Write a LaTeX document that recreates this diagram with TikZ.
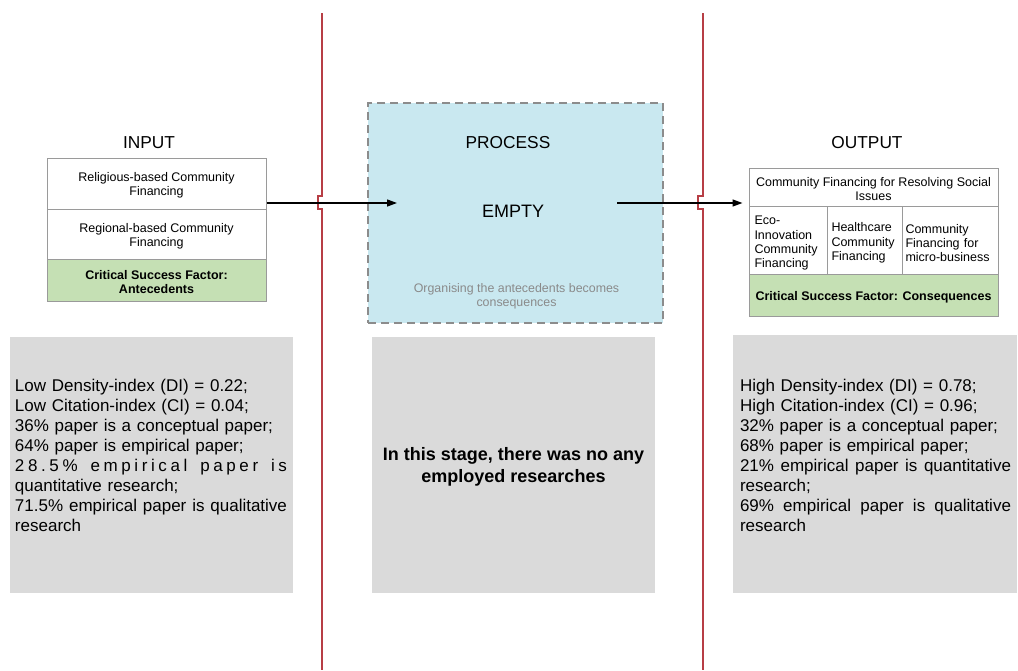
\documentclass[tikz,border=0pt]{standalone}
\usepackage{fontspec}
\setmainfont{Liberation Sans}
\usetikzlibrary{arrows.meta}
\definecolor{procblue}{HTML}{C9E8F0}
\definecolor{csfgreen}{HTML}{C5E0B4}
\definecolor{boxgray}{HTML}{DADADA}
\definecolor{cellgray}{HTML}{9A9A9A}
\definecolor{dashgray}{HTML}{8C8C8C}
\definecolor{redln}{HTML}{B73E45}
\definecolor{notegray}{HTML}{8A8A8A}
\newlength\gwl \setlength\gwl{272pt}
\newlength\gwr \setlength\gwr{271pt}
\newcommand\cstrut{\rule{0pt}{13pt}}
\newcommand\ccstrut{\rule{0pt}{15pt}}
\begin{document}
\begin{tikzpicture}[x=1pt,y=-1pt,
  cell/.style={draw=cellgray, line width=1pt, fill=white, inner sep=0pt, align=center,
    font=\fontsize{12.5}{14.3}\selectfont},
  csf/.style={cell, fill=csfgreen, font=\fontsize{12.5}{14.3}\selectfont\bfseries},
  colcell/.style={cell, align=left, minimum height=68pt},
  title/.style={inner sep=0pt, font=\fontsize{17.3}{20}\selectfont},
  procbox/.style={draw=dashgray, fill=procblue, line width=1.1pt, dash pattern=on 8pt off 5pt, inner sep=0pt},
  graybox/.style={fill=boxgray, draw=none, inner sep=0pt},
  stat/.style={inner sep=0pt, align=left, font=\fontsize{17}{20}\selectfont},
  redline/.style={draw=redln, line width=1.2pt},
  arr/.style={draw=black, line width=1.3pt, -{Triangle[length=10pt,width=7pt]}}
]
\useasboundingbox (0,0) rectangle (1018,670);

% process box
\node[procbox, minimum width=295pt, minimum height=220pt] (proc) at (515.5,213) {};
\node[title] (tproc) at (508,143) {PROCESS};
\node[title, font=\fontsize{18}{20}\selectfont] (empty) at (513,211) {EMPTY};
\node[inner sep=0pt, align=center, text=notegray, font=\fontsize{12.4}{14}\selectfont] (org) at (516.5,296)
  {Organising the antecedents becomes\\consequences};

% input
\node[title] (tin) at (149,143) {INPUT};
\node[cell, minimum width=219pt, minimum height=51pt] (in1) at (156.5,183.5) {\cstrut Religious-based Community\\Financing};
\node[cell, minimum width=219pt, minimum height=50pt] (in2) at (156.5,234) {\cstrut Regional-based Community\\Financing};
\node[csf, minimum width=219pt, minimum height=42pt] (in3) at (156.5,280) {\cstrut Critical Success Factor:\\Antecedents};

% output
\node[title] (tout) at (867,143) {OUTPUT};
\node[cell, minimum width=249pt, minimum height=38pt] (out1) at (873.5,187) {\cstrut Community Financing for Resolving Social\\Issues};
\node[colcell, text width=67pt, inner xsep=5.5pt] (out2a) at (788,240) {\ccstrut Eco-\\Innovation\\Community\\Financing};
\node[colcell, text width=66pt, inner xsep=4.5pt] (out2b) at (864.5,240) {\ccstrut Healthcare\\Community\\Financing};
\node[colcell, text width=89pt, inner xsep=3.5pt] (out2c) at (950,240) {\ccstrut Community\\Financing for\\\mbox{micro-business}};
\node[csf, minimum width=249pt, minimum height=42pt] (out3) at (873.5,295) {\cstrut Critical Success Factor: Consequences};

% red separators with line hops
\draw[redline] (322,13) -- (322,196) -- (318,196) -- (318,209) -- (322,209) -- (322,670);
\draw[redline] (703,13) -- (703,196) -- (698,196) -- (698,209) -- (703,209) -- (703,670);

% arrows
\coordinate (a1e) at (397,203);
\coordinate (a2s) at (617,203);
\draw[arr] (in1.east |- a1e) -- (a1e);
\draw[arr, shorten >=6pt] (a2s) -- (out1.west |- a2s);

% gray boxes
\node[graybox, minimum width=283pt, minimum height=256pt] (g1) at (151.5,465) {};
\node[graybox, minimum width=283pt, minimum height=256pt] (g2) at (513.5,465) {};
\node[graybox, minimum width=284pt, minimum height=258pt] (g3) at (875,464) {};

\node[stat, text width=\gwl] (s1) at (151,455) {%
Low Density-index (DI) = 0.22;\\
Low Citation-index (CI) = 0.04;\\
36\% paper is a conceptual paper;\\
64\% paper is empirical paper;\\
\makebox[\gwl][s]{2\hfil 8\hfil .\hfil 5\hfil \%\hfil\ \hfil e\hfil m\hfil p\hfil i\hfil r\hfil i\hfil c\hfil a\hfil l\hfil\ \hfil p\hfil a\hfil p\hfil e\hfil r\hfil\ \hfil i\hfil s}\\
quantitative research;\\
\makebox[\gwl][s]{71.5\%\hfill empirical\hfill paper\hfill is\hfill qualitative}\\
research};

\node[inner sep=0pt, align=center, font=\fontsize{18}{22}\selectfont\bfseries] (s2) at (513.5,467)
  {In this stage, there was no any\\employed researches};

\node[stat, text width=\gwr] (s3) at (875.5,455) {%
High Density-index (DI) = 0.78;\\
High Citation-index (CI) = 0.96;\\
32\% paper is a conceptual paper;\\
68\% paper is empirical paper;\\
\makebox[\gwr][s]{21\%\hfill empirical\hfill paper\hfill is\hfill quantitative}\\
research;\\
\makebox[\gwr][s]{69\%\hfill empirical\hfill paper\hfill is\hfill qualitative}\\
research};
\end{tikzpicture}
\end{document}
